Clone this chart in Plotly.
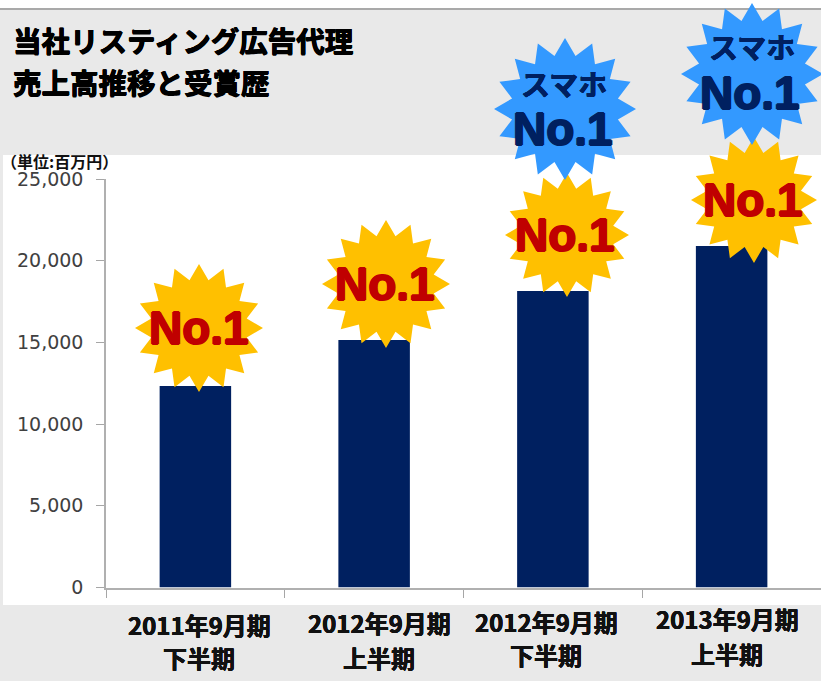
import math
import plotly.graph_objects as go

W, H = 821, 681

categories = ["2011年9月期 下半期", "2012年9月期 上半期", "2012年9月期 下半期", "2013年9月期 上半期"]
sales = [12330, 15150, 18150, 20900]
y_ticks = [0, 5000, 10000, 15000, 20000, 25000]
label_line1 = ["2011年9月期", "2012年9月期", "2012年9月期", "2013年9月期"]
label_line2 = ["下半期", "上半期", "下半期", "上半期"]
title_lines = ["当社リスティング広告代理", "売上高推移と受賞歴"]
unit_label = "（単位:百万円）"
badge_main = "No.1"
badge_sub = "スマホ"

NAVY, RED, GOLD, BLUE, BG = "#002060", "#c00000", "#ffc000", "#3399ff", "#e9e9e9"
CJK = "Noto Sans CJK JP"


def px(x):
    return x / W


def py(y):
    return 1 - y / H


def star(cx, cy, r, color, spikes=16, ratio=0.76):
    pts = []
    for i in range(spikes * 2):
        a = math.pi * i / spikes
        rad = r if i % 2 == 0 else r * ratio
        pts.append((px(cx + rad * math.sin(a)), py(cy - rad * math.cos(a))))
    path = "M" + "L".join(f"{x:.5f},{y:.5f}" for x, y in pts) + "Z"
    return dict(type="path", path=path, xref="paper", yref="paper", fillcolor=color,
                line=dict(width=0), layer="above")


def rect(x0, y0, x1, y1, color):
    return dict(type="rect", xref="paper", yref="paper", x0=px(x0), x1=px(x1), y0=py(y0), y1=py(y1),
                fillcolor=color, line=dict(width=0), layer="below")


def thick(color, d=0.6):
    return ", ".join(f"{a}px {b}px 0 {color}" for a, b in [(d, 0), (-d, 0), (0, d), (0, -d)])


def text(x, y, s, size, color="#000000", family=CJK, anchor="center", shadow=None):
    font = dict(family=family, size=size, color=color, weight="bold")
    if shadow:
        font["shadow"] = shadow
    return dict(xref="paper", yref="paper", x=px(x), y=py(y), text=s, showarrow=False, font=font,
                xanchor=anchor, yanchor="middle", align=anchor)


fig = go.Figure(go.Bar(x=categories, y=sales, width=0.4, marker=dict(color=NAVY, line=dict(width=0)), hoverinfo="skip"))

shapes = [
    rect(0, 0, W, 8, "#ffffff"),
    rect(0, 8, W, 10, "#a9a9a9"),
    rect(3, 155, W, 605, "#ffffff"),
    star(199, 328, 64, GOLD),
    star(386, 284, 64, GOLD),
    star(567, 235, 62, GOLD),
    star(754, 200, 63, GOLD),
    star(565, 109, 71, BLUE),
    star(752, 74, 71, BLUE),
]

anns = [
    text(11, 39, title_lines[0], 28.5, anchor="left", shadow=thick("#000000", 0.5)),
    text(11, 81, title_lines[1], 28.5, anchor="left", shadow=thick("#000000", 0.5)),
    text(-1, 161, unit_label, 16, color="#111111", anchor="left"),
    text(199, 328, badge_main, 46, RED, "Liberation Sans", shadow=thick(RED, 1)),
    text(385, 284, badge_main, 46, RED, "Liberation Sans", shadow=thick(RED, 1)),
    text(565, 235, badge_main, 46, RED, "Liberation Sans", shadow=thick(RED, 1)),
    text(753, 200, badge_main, 46, RED, "Liberation Sans", shadow=thick(RED, 1)),
    text(563, 129, badge_main, 46, NAVY, "Liberation Sans", shadow=thick(NAVY, 1)),
    text(750, 93, badge_main, 46, NAVY, "Liberation Sans", shadow=thick(NAVY, 1)),
    text(564, 83, badge_sub, 29, NAVY, shadow=thick(NAVY, 0.4)),
    text(752, 46, badge_sub, 29, NAVY, shadow=thick(NAVY, 0.4)),
]
line1_pos = [(199, 624), (379, 622), (546, 621), (727, 618)]
line2_pos = [(199, 657), (379, 657), (546, 654), (727, 653)]
for i in range(4):
    anns.append(text(*line1_pos[i], label_line1[i], 24, "#111111", shadow=thick("#111111", 0.3)))
    anns.append(text(*line2_pos[i], label_line2[i], 24, "#111111", shadow=thick("#111111", 0.3)))

fig.update_layout(
    width=W, height=H, margin=dict(l=0, r=0, t=0, b=0, autoexpand=False), paper_bgcolor=BG, plot_bgcolor="rgba(0,0,0,0)",
    showlegend=False, shapes=shapes, annotations=anns,
    xaxis=dict(domain=[px(106), 1], type="category", categoryorder="array", categoryarray=categories,
               tickson="boundaries", ticks="outside", ticklen=8, tickwidth=1, tickcolor="#a6a6a6",
               showticklabels=False, showline=True, linecolor="#b0b0b0", linewidth=2, showgrid=False, zeroline=False),
    yaxis=dict(domain=[py(587.5), py(179)], range=[0, 25000], tickvals=y_ticks, tickformat=",d",
               ticks="outside", ticklen=8, tickwidth=1, tickcolor="#a6a6a6",
               showline=True, linecolor="#b0b0b0", linewidth=1.5, showgrid=False, zeroline=False,
               ticklabelstandoff=9, tickfont=dict(family="DejaVu Sans", size=19, color="#404040")),
)
fig.write_html("out.html", config=dict(displayModeBar=False),
               post_script="document.body.style.margin='0';document.body.style.overflow='hidden';")
